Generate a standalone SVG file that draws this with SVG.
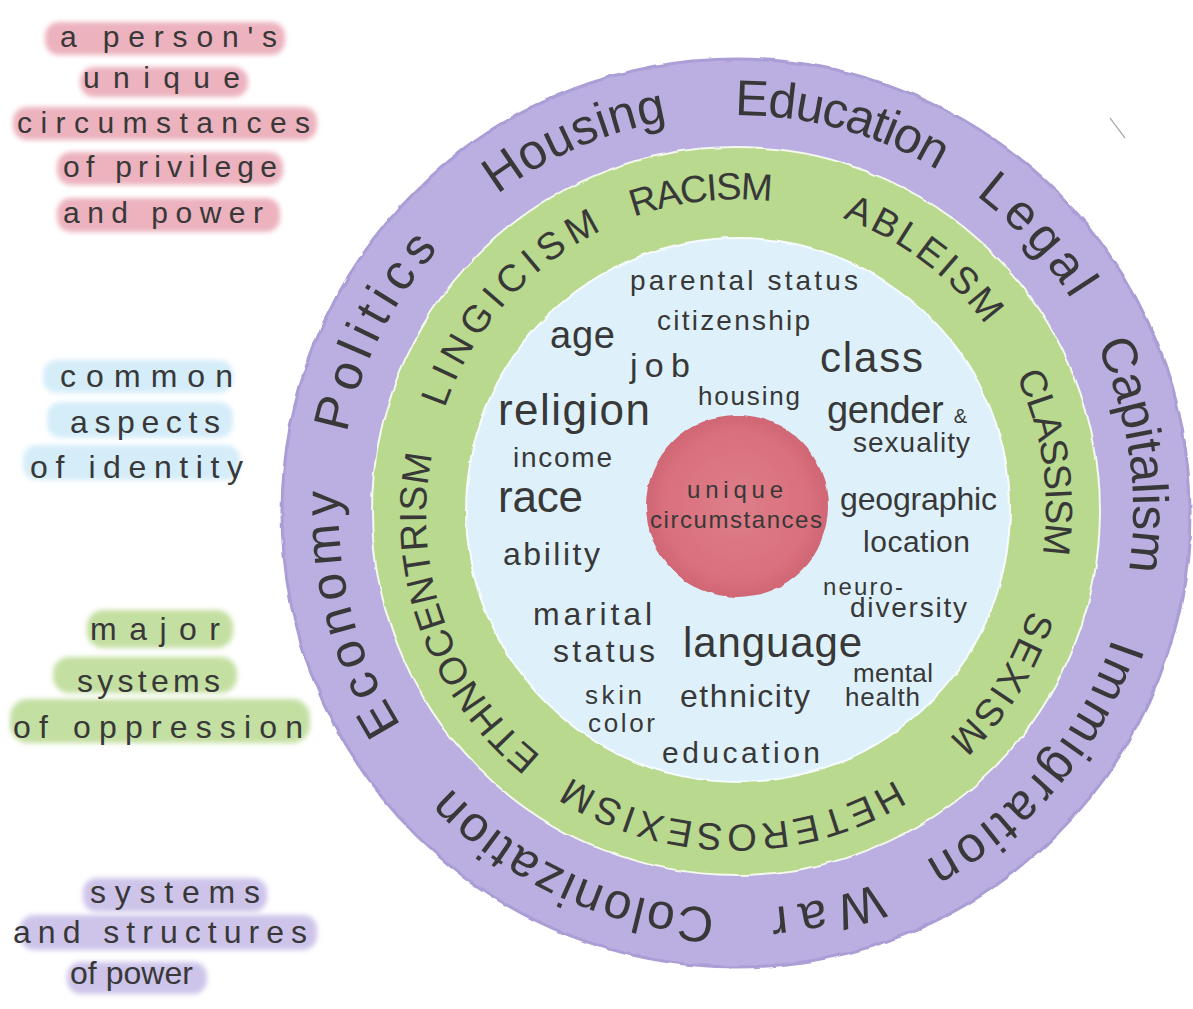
<svg xmlns="http://www.w3.org/2000/svg" width="1193" height="1009" viewBox="0 0 1193 1009">
<defs>
<style>
text{font-family:"Liberation Sans","DejaVu Sans",sans-serif;fill:#383838;}
.ring1{font-size:50px;}
.ring2{font-size:38px;}
.band{filter:url(#soft);}
</style>
<filter id="soft" x="-10%" y="-30%" width="120%" height="160%"><feGaussianBlur stdDeviation="2.5"/></filter>
<filter id="rough" x="-5%" y="-5%" width="110%" height="110%">
<feTurbulence type="fractalNoise" baseFrequency="0.05" numOctaves="2" seed="3" result="n"/>
<feDisplacementMap in="SourceGraphic" in2="n" scale="4" xChannelSelector="R" yChannelSelector="G"/>
</filter>
<radialGradient id="redg" cx="0.5" cy="0.5" r="0.5">
<stop offset="0" stop-color="#dd7e89"/>
<stop offset="0.8" stop-color="#d9707d"/>
<stop offset="1" stop-color="#d06674"/>
</radialGradient>
<path id="p1" d="M 736 909 A 397 397 0 1 1 736 115 A 397 397 0 1 1 736 909"/>
<path id="p2" d="M 1035.8 586.75 A 309 309 0 1 1 436.2 437.25 A 309 309 0 1 1 1035.8 586.75"/>
</defs>
<rect width="1193" height="1009" fill="#ffffff"/>

<g id="legend-pink">
<rect class="band" x="45" y="22" width="240" height="33" rx="14" fill="#ecb2be"/>
<rect class="band" x="80" y="67" width="168" height="30" rx="14" fill="#ecb2be"/>
<rect class="band" x="13" y="107" width="304" height="33" rx="14" fill="#ecb2be"/>
<rect class="band" x="57" y="152" width="226" height="33" rx="14" fill="#ecb2be"/>
<rect class="band" x="57" y="198" width="223" height="34" rx="14" fill="#ecb2be"/>
<text x="60" y="47" font-size="30" textLength="217">a person's</text>
<text x="83" y="88" font-size="30" textLength="157">unique</text>
<text x="17" y="133" font-size="30" textLength="293">circumstances</text>
<text x="63" y="177" font-size="30" textLength="214">of privilege</text>
<text x="63" y="223" font-size="30" textLength="200">and power</text>
</g>

<g id="legend-blue">
<rect class="band" x="43" y="360" width="190" height="33" rx="14" fill="#d5edf9"/>
<rect class="band" x="47" y="402" width="186" height="36" rx="14" fill="#d5edf9"/>
<rect class="band" x="23" y="445" width="217" height="35" rx="14" fill="#d5edf9"/>
<text x="60" y="387" font-size="32" textLength="173">common</text>
<text x="70" y="433" font-size="32" textLength="150">aspects</text>
<text x="30" y="478" font-size="32" textLength="213">of identity</text>
</g>

<g id="legend-green">
<rect class="band" x="87" y="610" width="146" height="38" rx="16" fill="#c4dfa2"/>
<rect class="band" x="53" y="657" width="184" height="36" rx="16" fill="#c4dfa2"/>
<rect class="band" x="10" y="699" width="300" height="44" rx="18" fill="#c4dfa2"/>
<text x="90" y="640" font-size="32" textLength="130">major</text>
<text x="77" y="692" font-size="32" textLength="143">systems</text>
<text x="13" y="738" font-size="32" textLength="290">of oppression</text>
</g>

<g id="legend-purple">
<rect class="band" x="83" y="878" width="184" height="34" rx="14" fill="#cec4ea"/>
<rect class="band" x="20" y="915" width="297" height="35" rx="14" fill="#cec4ea"/>
<rect class="band" x="67" y="962" width="140" height="32" rx="14" fill="#cec4ea"/>
<text x="90" y="903" font-size="32" textLength="170">systems</text>
<text x="13" y="943" font-size="32" textLength="294">and structures</text>
<text x="70" y="984" font-size="32" textLength="123">of power</text>
</g>

<line x1="1110" y1="118" x2="1125" y2="138" stroke="#9a9a9a" stroke-width="1.2"/>

<g id="ring-power">
<circle cx="736" cy="513" r="454" fill="#bbaee0" stroke="#ab9dd6" stroke-width="3" filter="url(#rough)"/>
<text class="ring1"><textPath href="#p1" startOffset="21" textLength="298">Colonization</textPath></text>
<text class="ring1"><textPath href="#p1" startOffset="398" textLength="246">Economy</textPath></text>
<text class="ring1"><textPath href="#p1" startOffset="703" textLength="208">Politics</textPath></text>
<text class="ring1"><textPath href="#p1" startOffset="991" textLength="187">Housing</textPath></text>
<text class="ring1"><textPath href="#p1" startOffset="1246" textLength="213">Education</textPath></text>
<text class="ring1"><textPath href="#p1" startOffset="1504" textLength="142">Legal</textPath></text>
<text class="ring1"><textPath href="#p1" startOffset="1698" textLength="232">Capitalism</textPath></text>
<text class="ring1"><textPath href="#p1" startOffset="1999" textLength="298">Immigration</textPath></text>
<text class="ring1"><textPath href="#p1" startOffset="2349" textLength="111">War</textPath></text>
</g>

<g id="ring-oppression">
<circle cx="736" cy="511" r="364" fill="#b8d98e" stroke="#f4f8ee" stroke-width="2" filter="url(#rough)"/>
<text class="ring2"><textPath href="#p2" startOffset="24" textLength="154">SEXISM</textPath></text>
<text class="ring2"><textPath href="#p2" startOffset="245" textLength="342">HETEROSEXISM</textPath></text>
<text class="ring2"><textPath href="#p2" startOffset="623" textLength="337">ETHNOCENTRISM</textPath></text>
<text class="ring2"><textPath href="#p2" startOffset="1008" textLength="243">LINGICISM</textPath></text>
<text class="ring2"><textPath href="#p2" startOffset="1286" textLength="140">RACISM</textPath></text>
<text class="ring2"><textPath href="#p2" startOffset="1499" textLength="181">ABLEISM</textPath></text>
<text class="ring2"><textPath href="#p2" startOffset="1739" textLength="183">CLASSISM</textPath></text>
</g>

<g id="ring-identity">
<circle cx="738" cy="510" r="272" fill="#def1fa" stroke="#f7fcff" stroke-width="2" filter="url(#rough)"/>
<text x="630" y="290" font-size="28" textLength="228">parental status</text>
<text x="657" y="330" font-size="28" textLength="153">citizenship</text>
<text x="550" y="348" font-size="38" textLength="65">age</text>
<text x="630" y="377" font-size="34" textLength="60">job</text>
<text x="820" y="372" font-size="42" textLength="103">class</text>
<text x="498" y="425" font-size="44" textLength="152">religion</text>
<text x="698" y="405" font-size="26" textLength="102">housing</text>
<text x="827" y="423" font-size="38" textLength="140">gender <tspan font-size="20">&amp;</tspan></text>
<text x="853" y="452" font-size="28" textLength="117">sexuality</text>
<text x="513" y="467" font-size="28" textLength="99">income</text>
<text x="498" y="512" font-size="44" textLength="85">race</text>
<text x="503" y="565" font-size="32" textLength="97">ability</text>
<text x="840" y="510" font-size="32" textLength="157">geographic</text>
<text x="863" y="552" font-size="30" textLength="107">location</text>
<text x="823" y="595" font-size="24" textLength="80">neuro-</text>
<text x="850" y="617" font-size="28" textLength="117">diversity</text>
<text x="533" y="625" font-size="32" textLength="119">marital</text>
<text x="553" y="662" font-size="32" textLength="102">status</text>
<text x="683" y="657" font-size="42" textLength="179">language</text>
<text x="853" y="682" font-size="26" textLength="80">mental</text>
<text x="845" y="706" font-size="26" textLength="75">health</text>
<text x="585" y="704" font-size="26" textLength="57">skin</text>
<text x="588" y="732" font-size="26" textLength="67">color</text>
<text x="680" y="707" font-size="32" textLength="130">ethnicity</text>
<text x="662" y="763" font-size="30" textLength="158">education</text>
</g>

<g id="center">
<circle cx="737" cy="506" r="91" fill="url(#redg)" filter="url(#rough)"/>
<text x="687" y="498" font-size="24" textLength="96">unique</text>
<text x="650" y="528" font-size="24" textLength="172">circumstances</text>
</g>

<g id="connectors"/>
</svg>
